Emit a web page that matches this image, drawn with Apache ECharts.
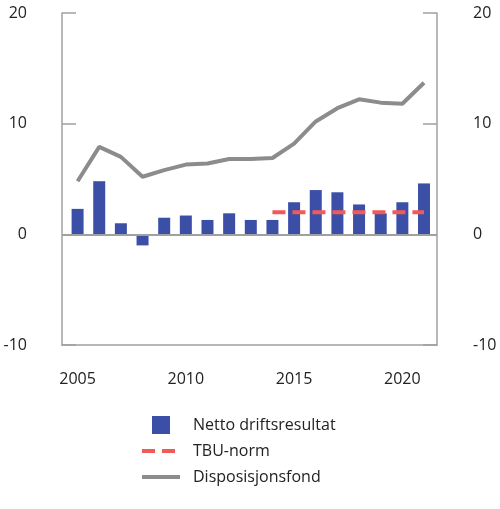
<!DOCTYPE html>
<html>
<head>
<meta charset="utf-8">
<script src="https://cdn.jsdelivr.net/npm/echarts@6/dist/echarts.min.js"></script>
<style>
  html, body { margin: 0; padding: 0; background: #fff; }
  #main { width: 500px; height: 509px; }
</style>
</head>
<body>
<div id="main"></div>
<script>
// data
var years = [2005, 2006, 2007, 2008, 2009, 2010, 2011, 2012, 2013, 2014, 2015, 2016, 2017, 2018, 2019, 2020, 2021];
var nettoDrift = [2.3, 4.8, 1.0, -1.0, 1.5, 1.7, 1.3, 1.9, 1.3, 1.3, 2.9, 4.0, 3.8, 2.7, 1.9, 2.9, 4.6];
var tbuNorm = [null, null, null, null, null, null, null, null, null, 2, 2, 2, 2, 2, 2, 2, 2];
var dispFond = [4.8, 7.9, 7.0, 5.2, 5.8, 6.3, 6.4, 6.8, 6.8, 6.9, 8.2, 10.2, 11.4, 12.2, 11.9, 11.8, 13.7];
var xLabels = [2005, 2010, 2015, 2020];

var font = 'Open Sans';
var axisGrey = '#a0a0a0';
var barBlue = '#3c4fa6';
var tbuRed = '#f25a5a';
var fondGrey = '#8c8c8e';

function pairs(vals) {
    return years.map(function (y, i) { return [y, vals[i]]; });
}

var chart = echarts.init(document.getElementById('main'));

var yAxisBase = {
    type: 'value',
    min: -10,
    max: 20,
    interval: 10,
    splitLine: { show: false },
    axisLine: { show: true, lineStyle: { color: axisGrey, width: 1.5 } },
    axisTick: { show: true, inside: true, length: 14, lineStyle: { color: axisGrey, width: 1.5 } },
    axisLabel: { fontFamily: font, fontSize: 16, color: '#222', margin: 35 }
};

chart.setOption({
    animation: false,
    grid: { left: 62, right: 63, top: 13, bottom: 164 },
    legend: {
        orient: 'vertical',
        left: 137,
        top: 411,
        itemWidth: 38,
        itemHeight: 18,
        itemGap: 8,
        textStyle: { fontFamily: font, fontSize: 16, color: '#222', padding: [0, 0, 0, 8] },
        data: [
            { name: 'Netto driftsresultat', icon: 'path://M0,9L0,9M10,0L28,0L28,18L10,18ZM38,9L38,9' },
            { name: 'TBU-norm', icon: 'path://M0,0L0,0M0,7L13,7L13,11L0,11ZM20,7L33,7L33,11L20,11ZM38,18L38,18' },
            { name: 'Disposisjonsfond', icon: 'path://M0,0L0,0M0,7L38,7L38,11L0,11ZM38,18L38,18' }
        ]
    },
    xAxis: {
        type: 'value',
        min: 2004.28,
        max: 2021.6,
        splitLine: { show: false },
        axisLine: { show: true, onZero: false, lineStyle: { color: axisGrey, width: 1.5 } },
        axisTick: { show: false },
        axisLabel: {
            customValues: xLabels,
            fontFamily: font, fontSize: 16, color: '#222', margin: 26,
            formatter: function (v) { return String(v); }
        }
    },
    yAxis: [
        Object.assign({}, yAxisBase, { position: 'left' }),
        Object.assign({}, yAxisBase, { position: 'right', axisLabel: Object.assign({}, yAxisBase.axisLabel, { margin: 36 }) })
    ],
    series: [
        {
            name: 'Netto driftsresultat',
            type: 'bar',
            barWidth: 12,
            data: pairs(nettoDrift),
            itemStyle: { color: barBlue },
            markLine: {
                silent: true,
                symbol: 'none',
                label: { show: false },
                lineStyle: { color: axisGrey, width: 2, type: 'solid' },
                data: [{ yAxis: 0 }]
            },
            z: 2
        },
        {
            name: 'TBU-norm',
            type: 'line',
            data: pairs(tbuNorm),
            symbol: 'none',
            lineStyle: { color: tbuRed, width: 4, type: [13, 7] },
            itemStyle: { color: tbuRed },
            z: 3
        },
        {
            name: 'Disposisjonsfond',
            type: 'line',
            data: pairs(dispFond),
            symbol: 'none',
            lineStyle: { color: fondGrey, width: 4 },
            itemStyle: { color: fondGrey },
            z: 4
        }
    ]
});
</script>
</body>
</html>
